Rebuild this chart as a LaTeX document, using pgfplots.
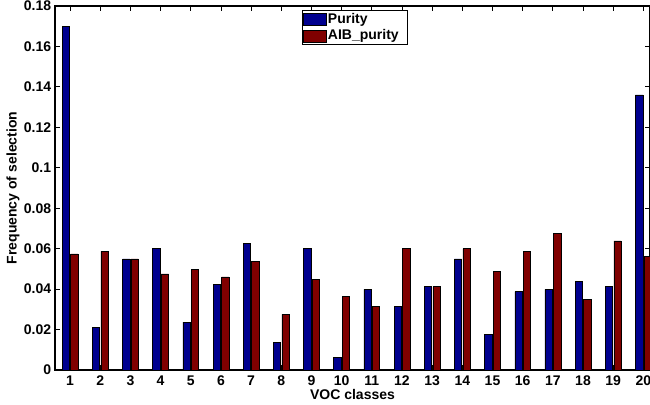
\documentclass[border=0pt]{standalone}
\usepackage{fontspec}
\setmainfont{Liberation Sans}
\usepackage{pgfplots}
\pgfplotsset{compat=1.18}

\definecolor{purityblue}{RGB}{0,0,143}
\definecolor{aibred}{RGB}{128,0,0}

\pgfplotstableread{
cls purity aib
1  0.1701 0.0574
2  0.0211 0.0587
3  0.0550 0.0550
4  0.0600 0.0475
5  0.0237 0.0499
6  0.0424 0.0461
7  0.0625 0.0537
8  0.0137 0.0275
9  0.0600 0.0448
10 0.0063 0.0363
11 0.0399 0.0313
12 0.0313 0.0600
13 0.0412 0.0412
14 0.0550 0.0600
15 0.0175 0.0486
16 0.0387 0.0587
17 0.0399 0.0674
18 0.0437 0.0349
19 0.0412 0.0638
20 0.1361 0.0562
}\voc

\begin{document}
\fontsize{14}{16}\selectfont\bfseries
\begin{tikzpicture}[font=\fontsize{14}{16}\selectfont\bfseries]
\path[use as bounding box] (-55pt,-34pt) rectangle (595pt,370pt);
\begin{axis}[
  scale only axis,
  width=595pt, height=364pt,
  ybar=1.2pt,
  bar width=7.3pt,
  xmin=0.5, xmax=20.22,
  ymin=0, ymax=0.18,
  xtick={1,...,20},
  ytick={0,0.02,0.04,0.06,0.08,0.1,0.12,0.14,0.16,0.18},
  yticklabels={0,0.02,0.04,0.06,0.08,0.1,0.12,0.14,0.16,0.18},
  tick align=inside,
  major tick length=5pt,
  tick style={black, line width=0.8pt},
  axis line style={black, line width=1.3pt},
  /pgf/number format/assume math mode=true,
  xticklabel style={yshift=-1pt},
  yticklabel style={xshift=1pt},
  xlabel={VOC classes},
  ylabel={Frequency of selection},
  xlabel style={at={(axis description cs:0.5,-0.068)}, anchor=center},
  ylabel style={at={(axis description cs:-0.0706,0.5)}, anchor=center},
  legend style={
    at={(247/595, 1-4/364)}, anchor=north west,
    draw=black, line width=1pt,
    inner xsep=1pt, inner ysep=1pt,
    row sep=0pt,
    nodes={inner xsep=1pt, inner ysep=2pt},
    /tikz/every even column/.append style={column sep=0pt},
  },
  legend cell align=left,
  legend image code/.code={
    \draw[#1, line width=0.5pt] (0pt,-6pt) rectangle (23pt,6pt);
  },
]
\addplot[fill=purityblue, draw=black, line width=0.5pt] table[x=cls, y=purity] {\voc};
\addlegendentry{\makebox[78pt][l]{Purity}}
\addplot[fill=aibred, draw=black, line width=0.5pt] table[x=cls, y=aib] {\voc};
\addlegendentry{\makebox[78pt][l]{AIB\_purity}}
\end{axis}
\end{tikzpicture}
\end{document}
